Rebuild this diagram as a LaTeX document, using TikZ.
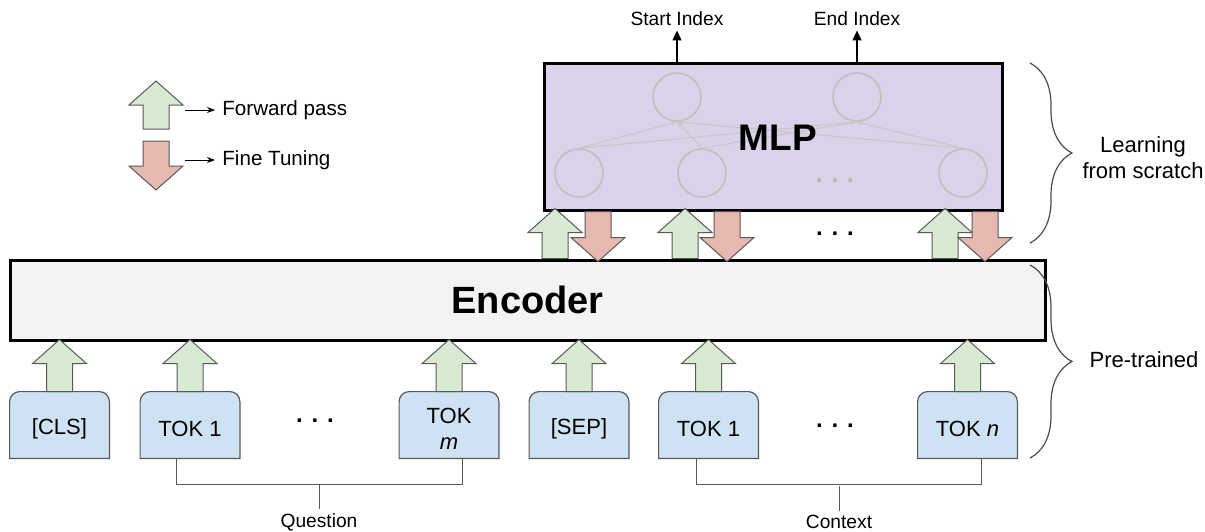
\documentclass[tikz,border=0pt]{standalone}
\usepackage{fontspec}
\setmainfont{Liberation Sans}
\usetikzlibrary{arrows.meta,decorations.pathreplacing,backgrounds}
\definecolor{fwdgreen}{HTML}{D9EAD3}
\definecolor{tunered}{HTML}{E6B8AF}
\definecolor{tokblue}{HTML}{CFE2F3}
\definecolor{mlppurple}{HTML}{D9D2E9}
\definecolor{encgray}{HTML}{F3F3F3}
\definecolor{edgegray}{HTML}{595959}
\begin{document}
\begin{tikzpicture}[x=0.5pt,y=-0.5pt,
  blockedge/.style={draw=edgegray,line width=0.5pt},
  pics/fwdarrow/.style={code={\filldraw[blockedge,fill=fwdgreen] (-13,0) -- (-13,-#1+24) -- (-27,-#1+24) -- (0,-#1) -- (27,-#1+24) -- (13,-#1+24) -- (13,0) -- cycle;}},
  pics/tunearrow/.style={code={\filldraw[blockedge,fill=tunered] (-13,0) -- (-13,#1-24) -- (-27,#1-24) -- (0,#1) -- (27,#1-24) -- (13,#1-24) -- (13,0) -- cycle;}},
  tok/.style={minimum width=49.5pt,minimum height=37pt,inner sep=0pt,align=center,font=\fontsize{11}{13}\selectfont},
  tokedge/.style={draw=edgegray,fill=tokblue,line width=0.6pt},
  encbox/.style={draw,line width=1.5pt,fill=encgray,minimum width=517.5pt,minimum height=40pt,font=\fontsize{19}{19}\selectfont\bfseries},
  mlpbox/.style={draw,line width=1.5pt,fill=mlppurple,minimum width=229pt,minimum height=73.5pt},
  neuron/.style={circle,draw=black!25,line width=0.8pt,minimum size=24pt,inner sep=0pt},
  synapse/.style={draw=black!22,line width=0.5pt,-{Stealth[length=3pt,width=2.5pt]}},
  dots/.style={font=\fontsize{12}{12}\selectfont\bfseries},
  smalltxt/.style={font=\fontsize{9.6}{11}\selectfont,inner sep=2pt},
  legendtxt/.style={font=\fontsize{10.3}{12}\selectfont,inner sep=0pt,anchor=west},
  sidetxt/.style={font=\fontsize{11}{13}\selectfont,align=center},
  outarrow/.style={line width=0.6pt,-{Triangle[length=5pt,width=4.5pt]}},
  bracket/.style={draw=edgegray,line width=0.5pt},
  brace/.style={draw=black!70,line width=0.6pt,decorate,decoration={brace,amplitude=21pt}}]
\useasboundingbox (0,0) rectangle (1205,531);

\pic at (156,129) {fwdarrow=48};
\pic at (156,141) {tunearrow=49};
\node[legendtxt] (fwdtxt) at (222,110) {Forward pass};
\node[legendtxt] (fttxt) at (222,160) {Fine Tuning};
\coordinate (fwdfrom) at (185,110);
\coordinate (ftfrom) at (185,160);
\draw[-{Stealth[length=4pt]},shorten >=3.5pt] (fwdfrom) -- (fwdtxt.west);
\draw[-{Stealth[length=4pt]},shorten >=3.5pt] (ftfrom) -- (fttxt.west);

\node[encbox] (enc) at (527.5,300) {Encoder};
\node[mlpbox] (mlp) at (773,136.5) {};

\node[neuron] (h1) at (677,97) {};
\node[neuron] (h2) at (857,97) {};
\node[neuron] (i1) at (579,173) {};
\node[neuron] (i2) at (702,173) {};
\node[neuron] (i3) at (963,173) {};
\foreach \i in {1,2,3} \foreach \h in {1,2} \draw[synapse] (i\i.north) -- (h\h.south);
\node[dots,text=black!30] (mlpdots) at (835,181) {. . .};
\node[font=\fontsize{18.5}{18.5}\selectfont\bfseries] (mlplabel) at (778,138) {MLP};

\node[smalltxt] (startidx) at (677,19) {Start Index};
\node[smalltxt] (endidx) at (857,19) {End Index};
\draw[outarrow] (677,0 |- mlp.north) -- (startidx.south);
\draw[outarrow] (857,0 |- mlp.north) -- (endidx.south);

\foreach \x in {555,685,945} \pic at (\x,0 |- enc.north) {fwdarrow=50};
\foreach \x in {598,727,985} \pic at (\x,0 |- mlp.south) {tunearrow=50};
\node[dots] (middots) at (835,234) {. . .};

\node[tok] (cls) at (59.5,429) {[CLS]};
\node[tok] (qa) at (190,429) {TOK 1};
\node[tok] (qm) at (449,429) {TOK\\\textit{m}};
\node[tok] (sep) at (579,429) {[SEP]};
\node[tok] (ca) at (708.5,429) {TOK 1};
\node[tok] (cn) at (967.5,429) {TOK \textit{n}};
\begin{scope}[on background layer]
\foreach \t in {cls,qa,qm,sep,ca,cn}
  \draw[tokedge] ([yshift=4pt]\t.south west) [rounded corners=5pt] -- (\t.north west) -- (\t.north east) [sharp corners] -- ([yshift=4pt]\t.south east) -- cycle;
\end{scope}
\foreach \t in {cls,qa,qm,sep,ca,cn} \pic at (\t.north) {fwdarrow=52};
\node[dots] (qdots) at (315,421) {. . .};
\node[dots] (cdots) at (835,426) {. . .};

\node[smalltxt] (question) at (319,522) {Question};
\node[smalltxt] (context) at (839,522) {Context};
\draw[bracket] ([xshift=-7pt,yshift=4pt]qa.south) -- ++(0,26) -| ([xshift=6.5pt,yshift=4pt]qm.south);
\draw[bracket] ([xshift=-6pt,yshift=4pt]ca.south) -- ++(0,26) -| ([xshift=7pt,yshift=4pt]cn.south);
\draw[bracket] (question.north) -- ++(0,-25);
\draw[bracket] (context.north) -- ++(0,-25);

\draw[brace] (1030,63) -- (1030,243);
\draw[brace] (1030,265) -- (1030,458);
\node[sidetxt] (learn) at (1143,158) {Learning\\from scratch};
\node[sidetxt] (pretr) at (1144,360) {Pre-trained};
\end{tikzpicture}
\end{document}
